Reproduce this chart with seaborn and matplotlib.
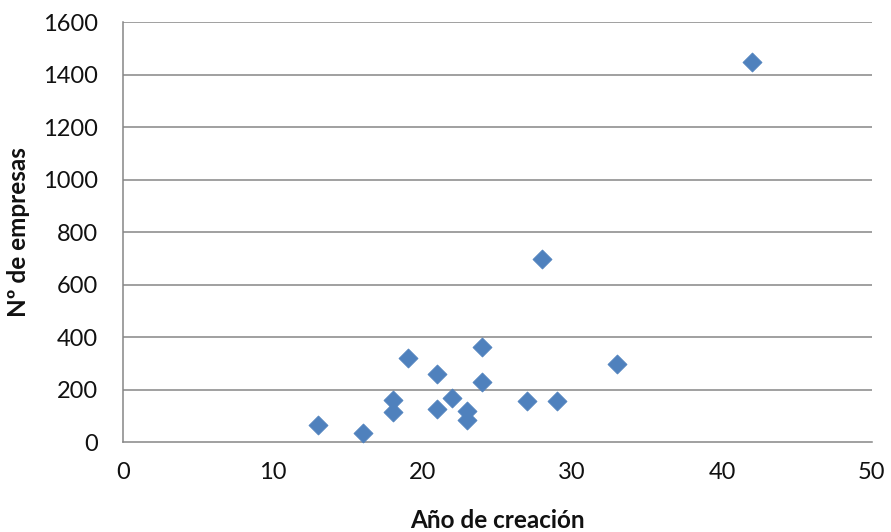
import matplotlib
matplotlib.use("Agg")
import matplotlib.pyplot as plt
import seaborn as sns
import pandas as pd

# Age of each sector (years since creation) and number of companies
anios = [13, 16, 18, 18, 19, 21, 21, 22, 23, 23, 24, 24, 27, 28, 29, 33, 42]
empresas = [66, 37, 163, 117, 320, 260, 125, 170, 118, 85, 362, 231, 158, 700, 158, 300, 1450]

x_ticks = [0, 10, 20, 30, 40, 50]
y_ticks = [0, 200, 400, 600, 800, 1000, 1200, 1400, 1600]

df = pd.DataFrame({"anio": anios, "empresas": empresas})

sns.set_theme(style="white")
plt.rcParams["font.family"] = ["Lato", "DejaVu Sans"]

fig = plt.figure(figsize=(8.91, 5.32), dpi=100)
ax = fig.add_axes([123 / 891, 89.7 / 532, (871.7 - 123) / 891, (509.7 - 89.7) / 532])

grid_color = "#868686"
for v in y_ticks[1:]:
    ax.axhline(v, color=grid_color, lw=1.1, zorder=1)

sns.scatterplot(data=df, x="anio", y="empresas", marker="D", s=95,
                color="#4F81BD", edgecolor="#4F81BD", linewidth=0.5,
                ax=ax, zorder=3, clip_on=False)

ax.set_xlim(0, 50)
ax.set_ylim(0, 1600)
ax.set_xticks(x_ticks)
ax.set_yticks(y_ticks)
ax.tick_params(axis="both", length=0, labelsize=17, colors="#111111")
ax.tick_params(axis="y", pad=18)
ax.tick_params(axis="x", pad=14)

for side in ["top", "right"]:
    ax.spines[side].set_visible(False)
for side in ["left", "bottom"]:
    ax.spines[side].set_color(grid_color)
    ax.spines[side].set_linewidth(1.1)

ax.set_xlabel("Año de creación", fontsize=17.5, fontweight="bold", color="#111111")
ax.set_ylabel("Nº de empresas", fontsize=17.5, fontweight="bold", color="#111111")
ax.xaxis.set_label_coords(0.5, -0.158)
ax.yaxis.set_label_coords(-0.124, 0.5)

fig.savefig("out.png", dpi=100, facecolor="white")
